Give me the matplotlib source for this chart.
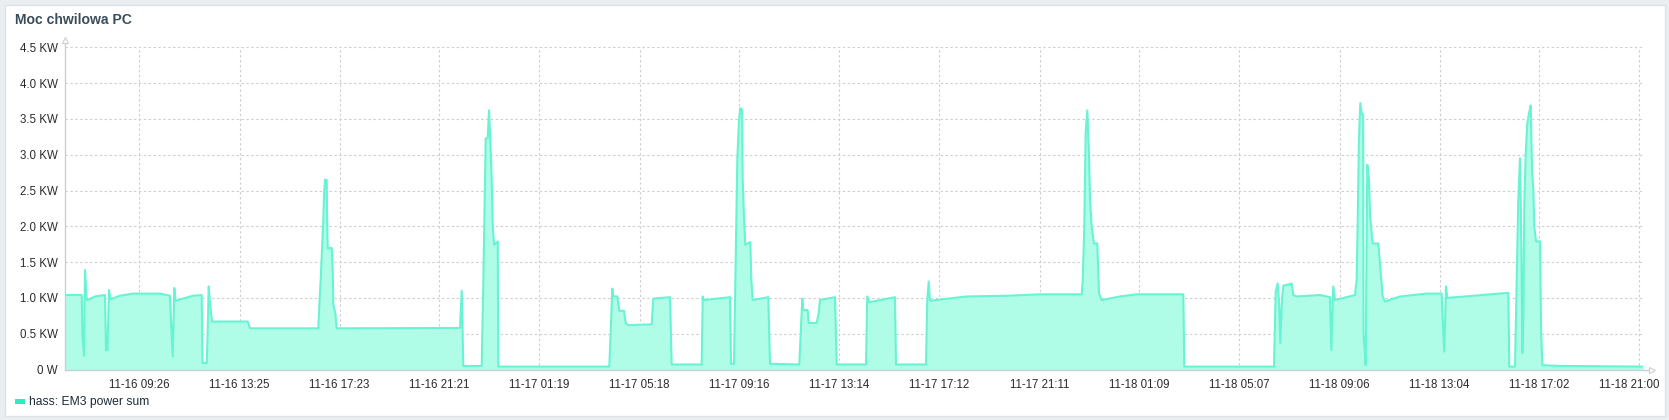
import matplotlib
matplotlib.use("Agg")
import matplotlib.pyplot as plt
from matplotlib.patches import Rectangle
from matplotlib.transforms import ScaledTranslation

plt.rcParams['font.family'] = ['Liberation Sans', 'DejaVu Sans']

title = "Moc chwilowa PC"
series_name = "hass: EM3 power sum"

# time in hours from 11-16 00:00, power in kW
t_hours = [
    6.50, 7.146, 7.177, 7.237, 7.277, 7.336, 7.368, 7.674, 8.071, 8.111, 8.170, 8.230, 8.289,
    8.667, 9.183, 10.255, 10.652, 10.672, 10.759, 10.823, 10.878, 11.566, 11.911, 11.943,
    12.110, 12.149, 12.189, 12.241, 12.320, 13.738, 13.829, 16.541, 16.581, 16.637, 16.740,
    16.768, 16.808, 16.875, 16.887, 16.915, 17.074, 17.113, 17.137, 17.216, 17.272, 22.169,
    22.236, 22.300, 23.031, 23.094, 23.189, 23.268, 23.320, 23.372, 23.428, 23.467, 23.519,
    23.666, 23.690, 28.097, 28.153, 28.217, 28.256, 28.415, 28.494, 28.681, 28.748, 28.840,
    29.781, 29.845, 30.508, 30.575, 31.767, 31.807, 31.859, 32.891, 32.931, 33.050, 33.070,
    33.117, 33.181, 33.248, 33.300, 33.367, 33.395, 33.447, 33.498, 33.697, 33.737, 33.793,
    34.412, 34.479, 35.643, 35.698, 35.762, 35.802, 35.976, 36.016, 36.334, 36.413, 36.465,
    37.061, 37.128, 38.291, 38.343, 38.422, 39.443, 39.482, 40.674, 40.725, 40.781, 40.833,
    42.290, 43.879, 45.201, 46.857, 46.897, 46.960, 47.016, 47.080, 47.147, 47.187, 47.254,
    47.346, 47.477, 47.544, 47.651, 48.378, 49.041, 50.892, 50.932, 54.494, 54.561, 54.641,
    54.704, 54.744, 54.811, 54.863, 55.196, 55.260, 55.395, 56.320, 56.717, 56.769, 56.848,
    56.916, 57.710, 57.778, 57.817, 57.869, 57.921, 57.988, 58.035, 58.049, 58.068, 58.135,
    58.199, 58.266, 58.306, 58.373, 58.413, 58.635, 58.703, 58.810, 58.901, 59.497, 60.557,
    61.153, 61.193, 61.256, 61.324, 61.375, 63.798, 63.838, 64.065, 64.132, 64.196, 64.263,
    64.315, 64.355, 64.395, 64.435, 64.490, 64.554, 64.621, 64.689, 64.740, 64.792, 64.832,
    64.899, 65.058, 65.098, 65.149, 65.852, 69.160,
]
power_kw = [
    1.04, 1.04, 0.46, 0.19, 1.39, 1.00, 0.97, 1.02, 1.04, 0.27, 0.27, 1.11, 0.98,
    1.03, 1.06, 1.06, 1.03, 0.84, 0.18, 1.14, 0.96, 1.03, 1.04, 0.09,
    0.09, 0.54, 1.16, 0.92, 0.67, 0.67, 0.575, 0.575, 0.90, 1.26, 2.09,
    2.44, 2.65, 2.65, 2.18, 1.69, 1.70, 1.39, 0.91, 0.79, 0.575, 0.58,
    1.10, 0.05, 0.05, 1.20, 3.23, 3.23, 3.62, 3.22, 2.65, 2.02, 1.74,
    1.79, 0.04, 0.04, 0.51, 1.13, 1.02, 1.02, 0.82, 0.82, 0.65, 0.62,
    0.63, 0.99, 1.01, 0.07, 0.07, 1.02, 0.97, 1.01, 0.08, 0.08, 0.53,
    1.67, 2.93, 3.48, 3.65, 3.63, 2.65, 2.13, 1.74, 1.78, 1.25, 0.97,
    1.01, 0.08, 0.07, 0.50, 0.99, 0.83, 0.83, 0.65, 0.65, 0.79, 0.97,
    1.01, 0.07, 0.07, 1.02, 0.94, 1.01, 0.07, 0.07, 0.97, 1.23, 0.96,
    1.02, 1.03, 1.05, 1.05, 1.23, 1.99, 3.32, 3.62, 3.00, 2.37, 1.99,
    1.76, 1.76, 1.06, 0.97, 1.02, 1.05, 1.05, 0.04, 0.04, 1.09, 1.20,
    0.88, 0.37, 0.97, 1.17, 1.20, 1.04, 1.02, 1.04, 1.01, 0.27, 1.16,
    0.97, 1.04, 1.25, 2.04, 3.25, 3.72, 3.56, 3.56, 0.51, 0.40, 0.06,
    2.86, 2.65, 2.16, 1.90, 1.76, 1.76, 1.48, 1.02, 0.95, 1.02, 1.06,
    1.06, 0.69, 0.25, 1.16, 1.00, 1.07, 0.04, 0.04, 1.20, 2.37, 2.95,
    1.81, 0.23, 0.72, 2.33, 3.02, 3.44, 3.58, 3.69, 2.79, 2.51, 1.99,
    1.79, 1.79, 0.60, 0.06, 0.05, 0.04,
]

x_tick_labels = ["11-16 09:26", "11-16 13:25", "11-16 17:23", "11-16 21:21", "11-17 01:19",
                 "11-17 05:18", "11-17 09:16", "11-17 13:14", "11-17 17:12", "11-17 21:11",
                 "11-18 01:09", "11-18 05:07", "11-18 09:06", "11-18 13:04", "11-18 17:02",
                 "11-18 21:00"]
y_ticks = [0, 0.5, 1.0, 1.5, 2.0, 2.5, 3.0, 3.5, 4.0, 4.5]
y_tick_labels = ["0 W", "0.5 KW", "1.0 KW", "1.5 KW", "2.0 KW", "2.5 KW", "3.0 KW",
                 "3.5 KW", "4.0 KW", "4.5 KW"]


def label_to_hours(lbl):
    day = int(lbl[3:5]) - 16
    return day * 24 + int(lbl[6:8]) + int(lbl[9:11]) / 60.0


x_ticks = [label_to_hours(l) for l in x_tick_labels]

W, H = 1669, 420
fig = plt.figure(figsize=(W / 100, H / 100), dpi=100)
fig.patch.set_facecolor('#ebeef0')

panel = Rectangle((4.5 / W, 4.5 / H), (1665 - 4.5) / W, (415 - 4.5) / H, transform=fig.transFigure,
                  facecolor='white', edgecolor='#dce2e6', linewidth=1.0, zorder=-10)
fig.add_artist(panel)

x0_px, x1_px = 65, 1643
y_top_px, y_bot_px = 47.3, 369.5
ax = fig.add_axes([x0_px / W, (H - y_bot_px) / H, (x1_px - x0_px) / W, (y_bot_px - y_top_px) / H])
ax.set_zorder(5)
ax.set_facecolor('none')

xmin = 3.901 + 0.039712 * x0_px
xmax = 3.901 + 0.039712 * x1_px
ax.set_xlim(xmin, xmax)
ax.set_ylim(0, 4.5)

ax.fill_between(t_hours, power_kw, 0, color='#b0fde7', linewidth=0, zorder=2)
ax.plot(t_hours, power_kw, color='#66f4d2', linewidth=1.5, zorder=3)

ax.set_xticks(x_ticks)
ax.set_xticklabels(x_tick_labels)
ax.set_yticks(y_ticks)
ax.set_yticklabels(y_tick_labels)
ax.tick_params(length=0, labelsize=8.3, colors='#2b2b2b', pad=5)
ax.tick_params(axis='x', pad=7)

# last label is pulled left so it stays inside the panel
last = ax.get_xticklabels()[-1]
last.set_transform(last.get_transform() + ScaledTranslation(-10 / 100, 0, fig.dpi_scale_trans))

ax.grid(True, color='#cfcfcf', linestyle=(0, (2.2, 2.2)), linewidth=0.8, zorder=1)
for s in ax.spines.values():
    s.set_visible(False)

# axis lines with arrows
axis_col = '#c9d0d4'
ax.plot([0, 0], [0, 1.02], transform=ax.transAxes, color=axis_col, lw=1.0, clip_on=False, zorder=4)
ax.plot([0, 1.004], [0, 0], transform=ax.transAxes, color=axis_col, lw=1.0, clip_on=False, zorder=4)
ax.plot([0], [1.022], transform=ax.transAxes, marker='^', markersize=4.5, markerfacecolor='white',
        markeredgecolor=axis_col, markeredgewidth=0.8, clip_on=False, zorder=5)
ax.plot([1.0055], [0], transform=ax.transAxes, marker='>', markersize=4.5, markerfacecolor='white',
        markeredgecolor=axis_col, markeredgewidth=0.8, clip_on=False, zorder=5)

fig.text(15 / W, 1 - 20 / H, title, fontsize=10.1, fontweight='bold', color='#3b4d5b',
         ha='left', va='center')

fig.add_artist(Rectangle((15 / W, (H - 403.5) / H), 10 / W, 4.5 / H, transform=fig.transFigure,
                         facecolor='#27efc0', edgecolor='none'))
fig.text(29 / W, 1 - 402 / H, series_name, fontsize=8.7, color='#1f2c33', ha='left', va='center')

fig.savefig('out.png', dpi=100, facecolor=fig.get_facecolor())
